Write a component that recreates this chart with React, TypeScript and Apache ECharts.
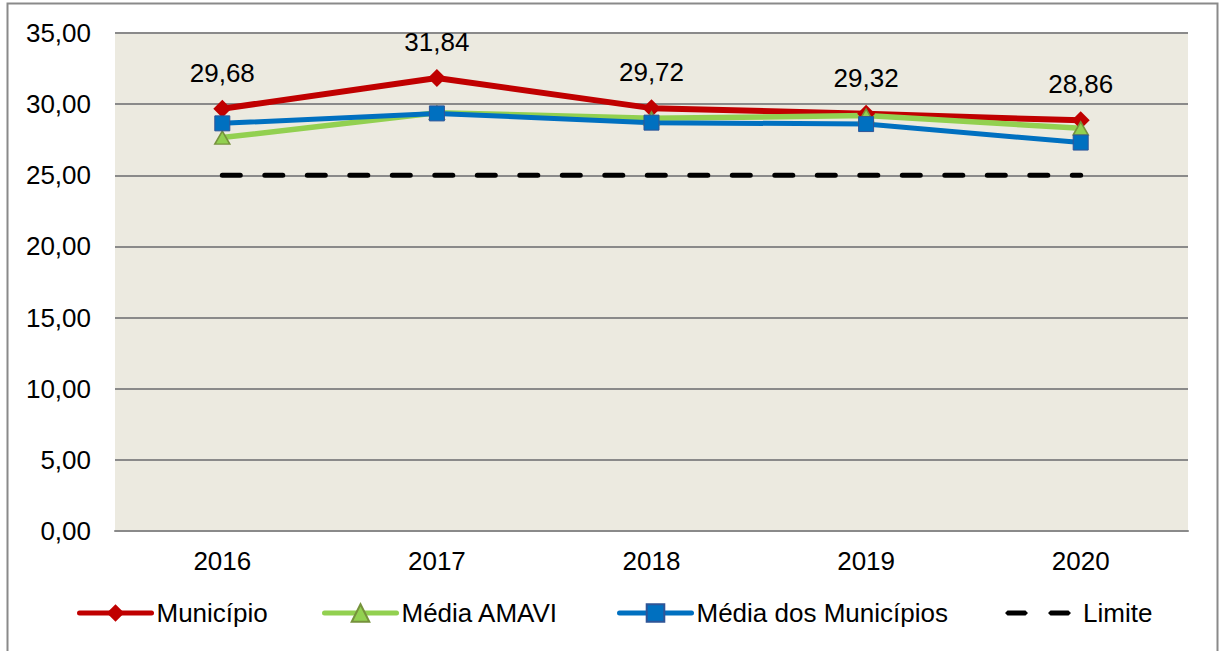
import React, { useEffect, useRef } from "react";
import * as echarts from "echarts";

const categories = ["2016", "2017", "2018", "2019", "2020"];
const municipio = [29.68, 31.84, 29.72, 29.32, 28.86];
const mediaAmavi = [27.65, 29.4, 29.0, 29.2, 28.3];
const mediaMunicipios = [28.65, 29.35, 28.7, 28.6, 27.3];
const limite = [25, 25, 25, 25, 25];
const seriesNames = ["Município", "Média AMAVI", "Média dos Municípios", "Limite"];

const fmt = (v: number) => v.toFixed(2).replace(".", ",");

export default function App() {
  const ref = useRef<HTMLDivElement>(null);
  useEffect(() => {
    document.body.style.margin = "0";
    const chart = echarts.init(ref.current!, null, { renderer: "svg" });
    const font = "'Liberation Sans', Arial, sans-serif";
    const legendText = { fontSize: 26, color: "#000", fontFamily: font, lineHeight: 30 };
    const legendBase = {
      top: 598,
      padding: 0,
      itemWidth: 72,
      itemHeight: 22,
      itemGap: 0,
      textStyle: legendText,
      lineStyle: { width: 5, cap: "round" },
    };
    chart.setOption({
      animation: false,
      backgroundColor: "#fff",
      textStyle: { fontFamily: font },
      grid: { left: 115, right: 31, top: 33, bottom: 120, backgroundColor: "#ECEAE0", show: true, borderWidth: 0 },
      graphic: [
        {
          type: "rect",
          shape: { x: 7.5, y: 3.5, width: 1210, height: 660 },
          style: { fill: "none", stroke: "#8a8a8a", lineWidth: 2 },
          silent: true,
        },
      ],
      legend: [
        { ...legendBase, left: 77, data: [seriesNames[0]] },
        { ...legendBase, left: 322, data: [seriesNames[1]] },
        { ...legendBase, left: 617, data: [seriesNames[2]] },
        {
          top: 598,
          left: 1005,
          padding: 0,
          itemWidth: 66,
          itemHeight: 30,
          itemGap: 0,
          symbolKeepAspect: true,
          textStyle: { ...legendText, padding: [0, 0, 0, 7] },
          data: [
            {
              name: seriesNames[3],
              icon: "path://M2.5,0h18l2.5,2.5l-2.5,2.5h-18l-2.5,-2.5z M45.5,0h18l2.5,2.5l-2.5,2.5h-18l-2.5,-2.5z",
              itemStyle: { color: "#000" },
            },
          ],
        },
      ],
      xAxis: {
        type: "category",
        data: categories,
        boundaryGap: true,
        axisLine: { show: true, lineStyle: { color: "#8a8a8a", width: 2 } },
        axisTick: { show: false },
        axisLabel: { fontSize: 26, color: "#000", margin: 17, fontFamily: font },
      },
      yAxis: {
        type: "value",
        min: 0,
        max: 35,
        interval: 5,
        axisLine: { show: false },
        axisTick: { show: false },
        splitLine: { lineStyle: { color: "#8a8a8a", width: 2 } },
        axisLabel: { fontSize: 26, color: "#000", margin: 24, formatter: (v: number) => fmt(v), fontFamily: font },
      },
      series: [
        {
          name: seriesNames[0],
          type: "line",
          data: municipio,
          symbol: "diamond",
          symbolSize: 18,
          lineStyle: { color: "#C00000", width: 6 },
          itemStyle: { color: "#C00000" },
          label: {
            show: true,
            position: "top",
            distance: 14,
            fontSize: 26,
            color: "#000",
            fontFamily: font,
            formatter: (p: any) => fmt(p.value),
          },
        },
        {
          name: seriesNames[1],
          type: "line",
          data: mediaAmavi,
          symbol: "triangle",
          symbolSize: [15, 13],
          lineStyle: { color: "#92D050", width: 5.5 },
          itemStyle: { color: "#92D050", borderColor: "#76923C", borderWidth: 1.5 },
        },
        {
          name: seriesNames[2],
          type: "line",
          data: mediaMunicipios,
          symbol: "rect",
          symbolSize: 15,
          lineStyle: { color: "#0070C0", width: 5 },
          itemStyle: { color: "#0070C0", borderColor: "#2F5597", borderWidth: 1 },
        },
        {
          name: seriesNames[3],
          type: "line",
          data: limite,
          symbol: "none",
          lineStyle: { color: "#000", width: 5, type: [18, 24.5], cap: "round" },
          itemStyle: { color: "#000" },
        },
      ],
    });
    return () => chart.dispose();
  }, []);
  return <div ref={ref} style={{ width: 1219, height: 651 }} />;
}
